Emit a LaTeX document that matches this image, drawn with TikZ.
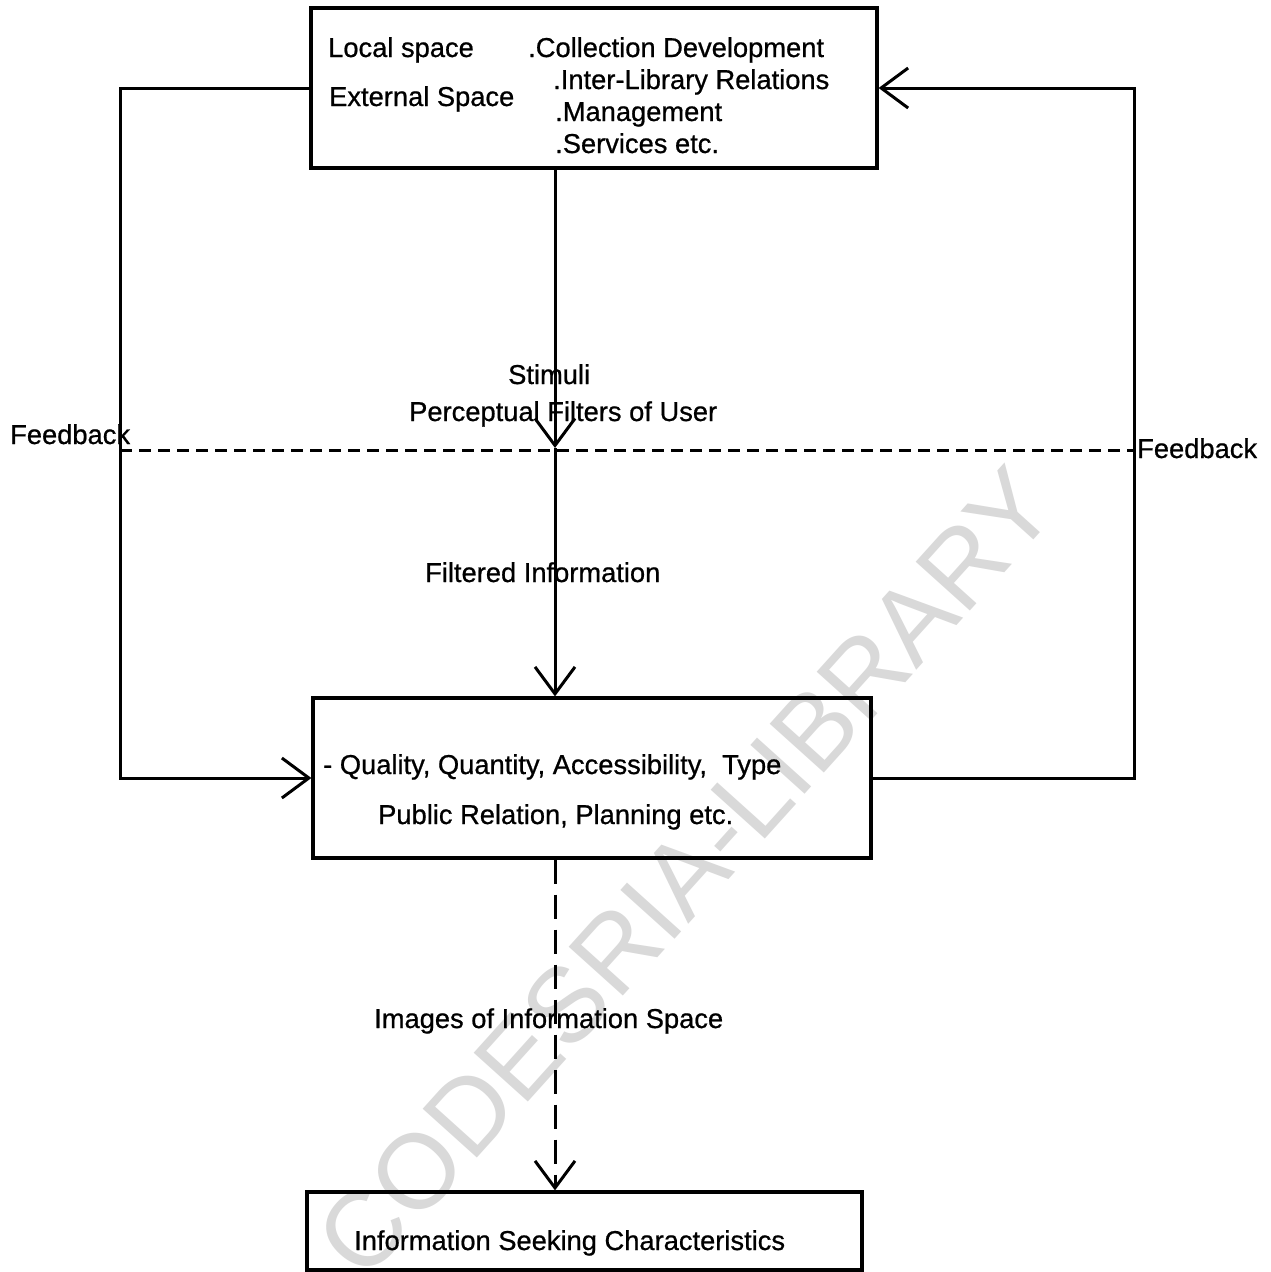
\documentclass[tikz,border=0pt]{standalone}
\usepackage{fontspec}
\setmainfont{Liberation Sans}
\newfontfamily\lblfont{Liberation Sans}[FakeBold=0.7]
\usetikzlibrary{arrows.meta}
\begin{document}
\begin{tikzpicture}[x=1pt,y=-1pt,
  box/.style={draw,line width=3.2pt,inner sep=0pt},
  conn/.style={line width=3pt},
  arr/.style={conn,-{Straight Barb[length=27pt,width=40pt,line width=3pt]}},
  hdash/.style={line width=3pt,dash pattern=on 12pt off 7pt},
  vdash/.style={dash pattern=on 24pt off 11pt},
  lbl/.style={anchor=base west,inner sep=0pt,font=\lblfont\fontsize{27.3}{32}\selectfont}]
\useasboundingbox (0,0) rectangle (1271,1272);
\fill[white] (0,0) rectangle (1271,1272);
% watermark
\node[rotate=48,text=black!15,font=\fontsize{106}{106}\selectfont,inner sep=0pt] (wm) at (686,872) {CODESRIA-LIBRARY};
% boxes
\node[box,minimum width=566pt,minimum height=160pt] (top) at (594,88) {};
\node[box,minimum width=558pt,minimum height=160pt] (mid) at (592,778) {};
\node[box,minimum width=555pt,minimum height=78pt] (bot) at (584.5,1231) {};
% coordinates
\coordinate (ltop) at (120,88);
\coordinate (rtop) at (1134,88);
\coordinate (fil) at (555,448);
\coordinate (fl) at (120,450);
\coordinate (fr) at (1134,450);
% connectors
\draw[hdash] (fl) -- (fr);
\draw[arr] (top.west) -- (ltop) |- (mid.west);
\draw[arr] (mid.east) -| (rtop) -- (top.east);
\draw[arr] (top.south -| fil) -- (fil);
\draw[arr] (fil) -- (mid.north -| fil);
\draw[arr,vdash] (mid.south -| fil) -- (bot.north -| fil);
% texts
\node[lbl] (t1) at (328,57) {Local space};
\node[lbl] (t2) at (329,106) {External Space};
\node[lbl] (t3) at (528,57) {.Collection Development};
\node[lbl] (t4) at (553,89) {.Inter-Library Relations};
\node[lbl] (t5) at (555,121) {.Management};
\node[lbl] (t6) at (555,153) {.Services etc.};
\node[lbl] (t7) at (508,384) {Stimuli};
\node[lbl] (t8) at (409,421) {Perceptual Filters of User};
\node[lbl] (t9) at (10,444) {Feedback};
\node[lbl] (t10) at (1137,458) {Feedback};
\node[lbl] (t11) at (425,582) {Filtered Information};
\node[lbl] (t12) at (323,774) {- Quality, Quantity, Accessibility,\ \ Type};
\node[lbl] (t13) at (378,824) {Public Relation, Planning etc.};
\node[lbl] (t14) at (374,1028) {Images of Information Space};
\node[lbl] (t15) at (354,1250) {Information Seeking Characteristics};
\end{tikzpicture}
\end{document}
